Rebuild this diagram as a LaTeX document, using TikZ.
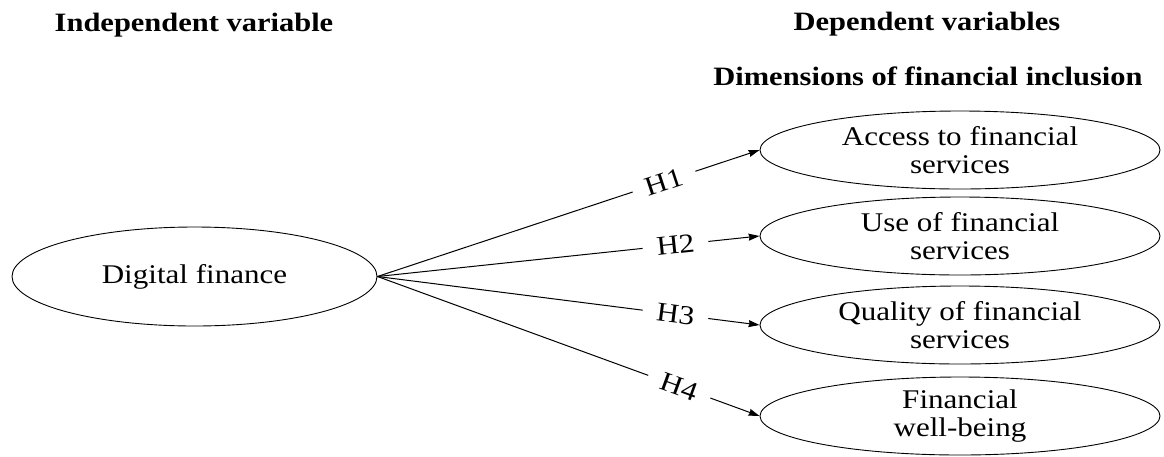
\documentclass[tikz,border=0pt]{standalone}
\usepackage{fontspec}
\setmainfont[FakeStretch=1.15]{Liberation Serif}
\usetikzlibrary{shapes.geometric,arrows.meta}
\tikzset{
  oval/.style={draw, ellipse, line width=0.9pt, inner sep=0pt, align=center,
    font=\fontsize{27}{28}\selectfont},
  link/.style={line width=1pt, -{Stealth[length=11pt,width=7pt,inset=1pt]}},
  hyp/.style={fill=white, sloped, inner xsep=14pt, inner ysep=1pt,
    font=\fontsize{27}{28}\selectfont},
  ttl/.style={anchor=base, inner sep=0pt, font=\bfseries\fontsize{26.5}{28}\selectfont}
}
\begin{document}
\begin{tikzpicture}[x=1pt,y=-1pt]
\useasboundingbox (0,0) rectangle (1164,456);
\fill[white] (0,0) rectangle (1164,456);
\node[ttl] (t1) at (194,31) {Independent variable};
\node[ttl] (t2) at (927,30) {Dependent variables};
\node[ttl] (t3) at (928,85) {Dimensions of financial inclusion};
\node[oval, minimum width=365pt, minimum height=99pt] (df) at (194.5,276.5) {Digital finance};
\node[oval, minimum width=400pt, minimum height=78pt] (d1) at (960,150) {Access to financial\\services};
\node[oval, minimum width=400pt, minimum height=78pt] (d2) at (960,236) {Use of financial\\services};
\node[oval, minimum width=400pt, minimum height=78pt] (d3) at (960,325) {Quality of financial\\services};
\node[oval, minimum width=400pt, minimum height=78pt] (d4) at (960,416) {Financial\\well-being};
\draw[link] (df.east) -- node[hyp, pos=0.75] {H1} (d1.west);
\draw[link] (df.east) -- node[hyp, pos=0.78] {H2} (d2.west);
\draw[link] (df.east) -- node[hyp, pos=0.78] {H3} (d3.west);
\draw[link] (df.east) -- node[hyp, pos=0.79] {H4} (d4.west);
\end{tikzpicture}
\end{document}
